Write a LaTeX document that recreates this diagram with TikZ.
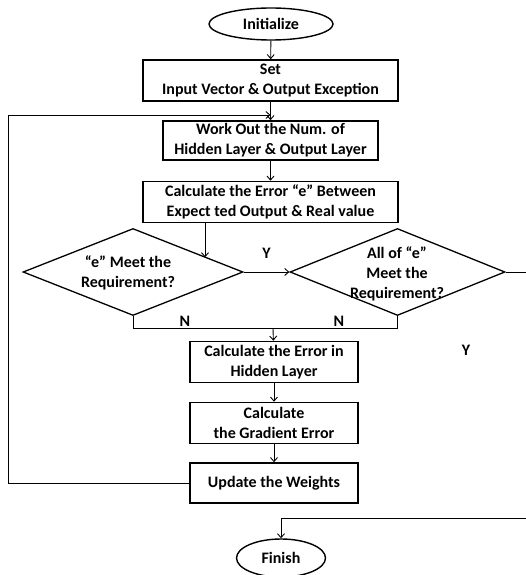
\documentclass[tikz,border=0pt]{standalone}
\usepackage{fontspec}
\setmainfont{Carlito}
\usetikzlibrary{shapes.geometric,arrows.meta}
\begin{document}
\begin{tikzpicture}[x=1pt,y=-1pt,
    font=\bfseries\fontsize{16}{20}\selectfont,
    >={Straight Barb[length=4pt,width=7pt]},
    box/.style={draw,line width=1.6pt,rectangle,align=center,inner sep=0pt},
    term/.style={draw,line width=1.4pt,ellipse,inner sep=0pt},
    cond/.style={draw,line width=1.3pt,diamond,inner sep=0pt},
    flow/.style={line width=0.9pt}]
    \useasboundingbox (0,0) rectangle (526,575);
    % nodes
    \node[term, minimum width=124pt, minimum height=32pt] (init) at (271,24) {Initialize};
    \node[box, minimum width=255pt, minimum height=41pt] (set) at (270.5,80.5) {Set\\Input Vector \& Output Exception};
    \node[box, minimum width=215pt, minimum height=39pt] (work) at (270.5,140.5) {Work Out the Num. of\\Hidden Layer \& Output Layer};
    \node[box, minimum width=255pt, minimum height=41pt] (err) at (270.5,202) {Calculate the Error ``e'' Between\\Expect ted Output \& Real value};
    \node[cond, minimum width=220pt, minimum height=87pt] (meet) at (133,272) {};
    \node[align=center] (meettext) at (128,273) {``e'' Meet the\\Requirement?};
    \node[cond, minimum width=215pt, minimum height=87pt] (allmeet) at (397.5,272) {};
    \node[align=center] (allmeettext) at (397,274) {All of ``e''\\Meet the\\Requirement?};
    \node[box, minimum width=168pt, minimum height=41pt] (hidden) at (274,362) {Calculate the Error in\\Hidden Layer};
    \node[box, minimum width=168pt, minimum height=41pt] (grad) at (274,423) {Calculate\\the Gradient Error};
    \node[box, minimum width=168pt, minimum height=40pt] (upd) at (274,483) {Update the Weights};
    \node[term, minimum width=89pt, minimum height=38pt] (fin) at (281,558) {Finish};
    % helper points
    \coordinate (loopin) at (270.5,115);
    \coordinate (loopcorner) at (8,115);
    \coordinate (jn) at (273,328);
    \coordinate (rcorner) at (545,518);
    % connectors
    \draw[flow,->] (init) -- (set);
    \draw[flow,->] (set) -- (work);
    \draw[flow,->] (upd.west) -| (loopcorner) -- (loopin);
    \draw[flow,->] (work) -- (err);
    \draw[flow,->] ([xshift=-65.5pt]err.south) -- ++(0,34);
    \draw[flow,->] (meet.east) -- node[above=10pt] (yes) {Y} (allmeet.west);
    \draw[flow] (meet.south) |- node[pos=0.685,above=-2pt] (no) {N} (jn);
    \draw[flow] (jn) -| node[pos=0.265,above=-2pt] (no2) {N} (allmeet.south);
    \draw[flow,->] (jn) -- (hidden);
    \draw[flow,->] (hidden) -- (grad);
    \draw[flow,->] (grad) -- (upd);
    \draw[flow,->] (allmeet.east) -| (rcorner) -| (fin.north);
    \node (yes2) at (466,350) {Y};
  \end{tikzpicture}
\end{document}
